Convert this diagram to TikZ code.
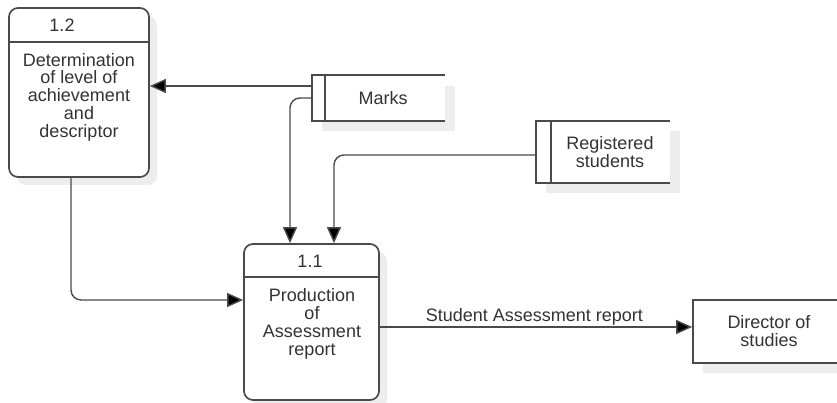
\documentclass[tikz,border=0pt]{standalone}
\usepackage{fontspec}
\setmainfont{Liberation Sans}
\usetikzlibrary{arrows.meta}
\definecolor{linec}{HTML}{4A4A4A}
\definecolor{textc}{HTML}{333333}
\definecolor{shadowc}{HTML}{EDEDED}
\begin{document}
\begin{tikzpicture}[x=1pt,y=-1pt,
  ln/.style={draw=linec, line width=1.4pt},
  arr/.style={ln, rounded corners=10pt, -{Triangle[length=16pt,width=14pt,fill=black]}},
  boxline/.style={draw=linec, line width=1.7pt},
  procbox/.style={boxline, fill=white, rounded corners=9pt, inner sep=0pt},
  plainbox/.style={boxline, fill=white, inner sep=0pt},
  storebox/.style={inner sep=0pt, fill=white},
  shadowbox/.style={fill=shadowc},
  txt/.style={text=textc, font=\fontsize{18}{17.8}\selectfont, align=center, inner sep=0pt},
  lbl/.style={text=textc, font=\fontsize{18}{18}\selectfont, inner sep=0pt}
]
\useasboundingbox (0,0) rectangle (837,403);
\clip (0,0) rectangle (837,403);

% shadows
\fill[shadowbox, rounded corners=9pt] (17,16) rectangle (157,185);
\fill[shadowbox, rounded corners=9pt] (252,252) rectangle (387,408);
\fill[shadowbox] (322,86) rectangle (455,131);
\fill[shadowbox] (546,131) rectangle (680,193);
\fill[shadowbox] (703,310) rectangle (855,373);

% process 1.2
\node[procbox, minimum width=140pt, minimum height=169pt] (p12) at (79,92.5) {};
\draw[boxline] (p12.west |- 0,42) -- (p12.east |- 0,42);
\node[txt] (p12id) at (62,25) {1.2};
\node[txt] (p12t) at (79,97) {Determination\\of level of\\achievement\\and\\descriptor};

% process 1.1
\node[procbox, minimum width=135pt, minimum height=156pt] (p11) at (311.5,322) {};
\draw[boxline] (p11.west |- 0,277) -- (p11.east |- 0,277);
\node[txt] (p11id) at (310,261) {1.1};
\node[txt] (p11t) at (312,324) {Production\\of\\Assessment\\report};

% store Marks
\node[storebox, minimum width=133pt, minimum height=46pt] (marks) at (378.5,98) {};
\draw[boxline] (marks.north east) -- (marks.north west) -- (marks.south west) -- (marks.south east);
\draw[boxline] (marks.north -| 325,0) -- (marks.south -| 325,0);
\node[txt] (markst) at (383,98) {Marks};

% store Registered students
\node[storebox, minimum width=134pt, minimum height=62pt] (reg) at (603,152) {};
\draw[boxline] (reg.north east) -- (reg.north west) -- (reg.south west) -- (reg.south east);
\draw[boxline] (reg.north -| 551,0) -- (reg.south -| 551,0);
\node[txt] (regt) at (610,152) {Registered\\students};

% external entity
\node[plainbox, minimum width=152pt, minimum height=63pt] (dir) at (769,331.5) {};
\node[txt] (dirt) at (769,331) {Director of\\studies};

% connectors
\draw[arr] (marks.west |- 0,86) -- (p12.east |- 0,86);
\draw[arr] (marks.west |- 0,98) -| (p11.north -| 290,0);
\draw[arr] (reg.west |- 0,155) -| (p11.north -| 334,0);
\draw[arr] (p12.south -| 71,0) |- (p11.west |- 0,300);
\draw[arr] (p11.east |- 0,327) -- node[lbl, pos=0.495, yshift=10pt] (lab) {Student Assessment report} (dir.west |- 0,327);
\end{tikzpicture}
\end{document}
